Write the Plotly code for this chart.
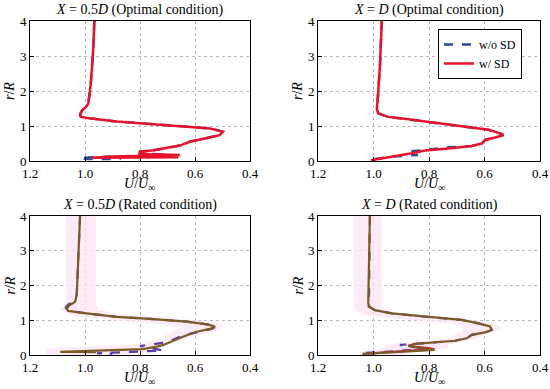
import plotly.graph_objects as go

# ---------------- data ----------------
# Top-left: X = 0.5D (Optimal condition)
tl_w_u = [0.966,0.970,0.979,0.988,0.996,1.012,1.018,1.015,0.985,0.885,0.764,0.630,0.545,0.499,0.510,0.560,0.620,0.655,0.700,0.750,0.800,0.802,0.764,0.655,0.760,0.900,0.975,0.820,0.660]
tl_w_r = [4.00,3.20,2.20,1.64,1.55,1.43,1.32,1.26,1.22,1.13,1.06,0.99,0.93,0.84,0.74,0.65,0.55,0.44,0.37,0.31,0.27,0.22,0.19,0.17,0.15,0.13,0.09,0.10,0.11]
tl_wo_u = [0.966,0.970,0.979,0.988,0.996,1.012,1.018,1.015,0.985,0.885,0.764,0.630,0.545,0.499,0.510,0.560,0.620,0.655,0.700,0.750,0.800,0.800,0.700,0.850,1.020,1.000,0.870]
tl_wo_r = [4.00,3.20,2.20,1.64,1.55,1.43,1.32,1.26,1.22,1.13,1.06,0.99,0.93,0.84,0.74,0.65,0.55,0.44,0.37,0.31,0.27,0.22,0.18,0.13,0.09,0.06,0.06]

# Top-right: X = D (Optimal condition)
tr_w_u = [0.970,0.977,0.985,0.988,0.983,0.947,0.875,0.754,0.658,0.586,0.544,0.532,0.562,0.598,0.610,0.646,0.730,0.814,0.862,0.898,0.959,1.010]
tr_w_r = [4.00,2.69,1.74,1.50,1.36,1.26,1.19,1.07,0.98,0.89,0.79,0.74,0.67,0.60,0.50,0.43,0.36,0.30,0.22,0.17,0.10,0.02]
tr_wo_u = [0.970,0.977,0.985,0.988,0.983,0.947,0.875,0.754,0.658,0.586,0.544,0.532,0.562,0.598,0.610,0.646,0.730,0.800,0.870,0.860,0.840,0.870,0.940,1.000]
tr_wo_r = [4.00,2.69,1.74,1.50,1.36,1.26,1.19,1.07,0.98,0.89,0.79,0.74,0.67,0.60,0.50,0.43,0.39,0.33,0.27,0.20,0.17,0.16,0.12,0.05]

# Bottom-left: X = 0.5D (Rated condition)
bl_m_u = [1.018,1.024,1.030,1.036,1.055,1.067,1.061,0.994,0.885,0.764,0.630,0.557,0.527,0.545,0.594,0.642,0.691,0.715,0.739,0.790,1.090,0.960]
bl_m_r = [4.00,2.69,1.73,1.53,1.44,1.34,1.27,1.20,1.10,1.04,0.96,0.88,0.82,0.75,0.67,0.53,0.38,0.29,0.24,0.17,0.09,0.08]
bl_wo_u = [1.018,1.024,1.030,1.040,1.062,1.070,1.061,0.994,0.885,0.764,0.630,0.555,0.522,0.540,0.590,0.640,0.685,0.720,0.752,0.800,0.760,0.716,0.800,0.957,0.900]
bl_wo_r = [4.00,2.69,1.73,1.53,1.45,1.36,1.27,1.20,1.10,1.04,0.96,0.88,0.82,0.75,0.67,0.57,0.42,0.35,0.31,0.26,0.20,0.13,0.10,0.05,0.04]

# Bottom-right: X = D (Rated condition)
br_m_u = [1.013,1.015,1.016,1.019,1.015,0.995,0.934,0.814,0.682,0.622,0.580,0.574,0.598,0.646,0.664,0.706,0.790,0.850,0.875,0.780,1.040]
br_m_r = [4.00,2.69,1.73,1.49,1.39,1.29,1.20,1.10,1.01,0.91,0.82,0.72,0.65,0.58,0.48,0.41,0.37,0.32,0.26,0.15,0.03]
br_w_u = [0.850,0.875,0.800,0.780,0.880,1.020]
br_w_r = [0.32,0.26,0.20,0.16,0.12,0.04]
br_wo_u = [1.013,1.015,1.016,1.022,1.018,0.995,0.934,0.814,0.682,0.622,0.580,0.574,0.598,0.646,0.664,0.706,0.790,0.850,0.905,0.880,0.800,1.050]
br_wo_r = [4.00,2.69,1.73,1.49,1.40,1.29,1.20,1.10,1.01,0.91,0.82,0.72,0.65,0.58,0.48,0.41,0.37,0.32,0.29,0.25,0.17,0.05]

# shaded bands (bottom panels)
band_r = [4.0,1.45,1.30,1.20,1.10,1.00,0.90,0.80,0.70,0.60,0.50,0.40,0.30,0.20,0.10,0.00]
bl_band_lo = [1.07,1.07,1.09,1.07,1.02,0.90,0.75,0.65,0.68,0.70,0.72,0.76,0.80,1.14,1.14,1.14]
bl_band_hi = [0.96,0.96,0.95,0.90,0.75,0.60,0.50,0.50,0.52,0.58,0.62,0.66,0.70,0.73,0.73,0.90]
br_band_lo = [1.07,1.07,1.07,1.05,1.00,0.85,0.72,0.68,0.68,0.70,0.72,0.80,0.96,0.96,1.05,1.05]
br_band_hi = [0.97,0.97,0.96,0.90,0.75,0.62,0.56,0.54,0.55,0.60,0.62,0.66,0.73,0.73,0.85,0.90]

x_ticks = [1.2, 1.0, 0.8, 0.6, 0.4]
y_ticks = [0, 1, 2, 3, 4]
titles = ["<i>X</i> = 0.5<i>D</i> (Optimal condition)", "<i>X</i> = <i>D</i> (Optimal condition)",
          "<i>X</i> = 0.5<i>D</i> (Rated condition)", "<i>X</i> = <i>D</i> (Rated condition)"]

# ---------------- styling ----------------
W, H = 550, 389
FONT = "Liberation Serif, Times New Roman, DejaVu Serif, serif"
BLUE = "#2d4a98"
PURPLE = "#5a3ca6"
RED = "#e8132b"
BROWN = "#7c5a26"
PINK = "rgba(252,230,246,0.75)"

def px(x):
    return x / W

def py(y):
    return 1 - y / H

# panels in pixel coords: (left, right, top, bottom)
panels = [(30, 250, 21, 161), (318, 540, 21, 161), (30, 250, 216, 355), (318, 540, 216, 355)]

fig = go.Figure()

def ax_names(i):
    s = "" if i == 0 else str(i + 1)
    return "x" + s, "y" + s

def add_band(i, lo, hi):
    xa, ya = ax_names(i)
    fig.add_trace(go.Scatter(x=lo + hi[::-1], y=band_r + band_r[::-1], fill="toself",
                             fillcolor=PINK, line=dict(width=0), mode="lines",
                             hoverinfo="skip", showlegend=False, xaxis=xa, yaxis=ya))

def add_line(i, u, r, color, dash, width, name=None, legend=False):
    xa, ya = ax_names(i)
    fig.add_trace(go.Scatter(x=u, y=r, mode="lines", name=name, showlegend=legend,
                             line=dict(color=color, dash=dash, width=width),
                             xaxis=xa, yaxis=ya))

add_band(2, bl_band_lo, bl_band_hi)
add_band(3, br_band_lo, br_band_hi)

add_line(0, tl_wo_u, tl_wo_r, BLUE, "dash", 2.5, "w/o SD", True)
add_line(0, tl_w_u, tl_w_r, RED, "solid", 2.5, "w/ SD", True)
add_line(1, tr_wo_u, tr_wo_r, BLUE, "dash", 2.5)
add_line(1, tr_w_u, tr_w_r, RED, "solid", 2.5)
add_line(2, bl_wo_u, bl_wo_r, PURPLE, "dash", 2.2)
add_line(2, bl_m_u, bl_m_r, BROWN, "solid", 2.2)
add_line(3, br_wo_u, br_wo_r, PURPLE, "dash", 2.2)
add_line(3, br_w_u, br_w_r, RED, "solid", 2.2)
add_line(3, br_m_u, br_m_r, BROWN, "solid", 2.2)

layout = dict(width=W, height=H, margin=dict(l=0, r=0, t=0, b=0, autoexpand=False),
              paper_bgcolor="white", plot_bgcolor="white",
              font=dict(family=FONT, size=13, color="black"),
              legend=dict(x=px(438), y=py(29), xanchor="left", yanchor="top",
                          bgcolor="white", bordercolor="black", borderwidth=1,
                          font=dict(family=FONT, size=12), tracegroupgap=0))
annotations = []
for i, (l, rr, t, b) in enumerate(panels):
    s = "" if i == 0 else str(i + 1)
    xa = dict(domain=[px(l), px(rr)], range=[1.2, 0.4], tickvals=x_ticks,
              ticktext=[f"{v:.1f}" for v in x_ticks], anchor="y" + s, automargin=False,
              showline=True, mirror=True, linecolor="black", linewidth=1,
              ticks="inside", ticklen=4, tickcolor="black",
              showgrid=True, gridcolor="#b8b8b8", griddash="dot", gridwidth=1,
              zeroline=False, tickfont=dict(family=FONT, size=13))
    ya = dict(domain=[py(b), py(t)], range=[0, 4], tickvals=y_ticks,
              anchor="x" + s, automargin=False,
              showline=True, mirror=True, linecolor="black", linewidth=1,
              ticks="inside", ticklen=4, tickcolor="black",
              showgrid=True, gridcolor="#b8b8b8", griddash="dot", gridwidth=1,
              zeroline=False, tickfont=dict(family=FONT, size=13))
    layout["xaxis" + s] = xa
    layout["yaxis" + s] = ya
    cx = (l + rr) / 2
    annotations.append(dict(text=titles[i], x=px(cx), y=py(t - 11), xref="paper", yref="paper",
                            showarrow=False, xanchor="center", yanchor="middle",
                            font=dict(family=FONT, size=14)))
    annotations.append(dict(text="<i>U</i>/<i>U</i><sub>∞</sub>", x=px(cx), y=py(b + 23),
                            xref="paper", yref="paper", showarrow=False,
                            xanchor="center", yanchor="middle", font=dict(family=FONT, size=14)))
    annotations.append(dict(text="<i>r</i>/<i>R</i>", x=px(l - 20), y=py((t + b) / 2),
                            xref="paper", yref="paper", showarrow=False, textangle=-90,
                            xanchor="center", yanchor="middle", font=dict(family=FONT, size=14)))
layout["annotations"] = annotations
fig.update_layout(**layout)

# remove the page's default body margin so the figure fills the window exactly
fig.write_html("out.html", config={"displayModeBar": False},
               post_script="document.body.style.margin='0';document.body.style.overflow='hidden';")
